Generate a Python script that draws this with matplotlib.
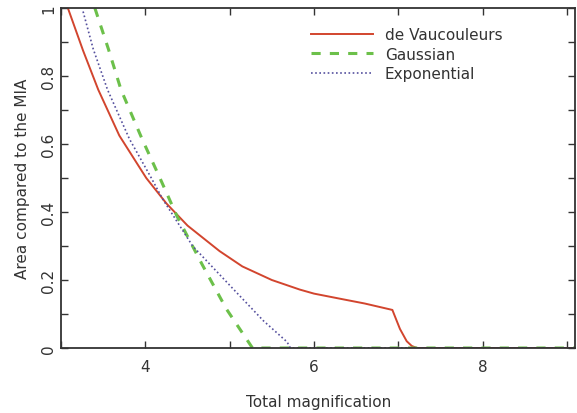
import matplotlib
matplotlib.use("Agg")
from matplotlib import pyplot as plt
from matplotlib.ticker import MultipleLocator

# de Vaucouleurs (solid red)
dv_x = [3.08, 3.26, 3.44, 3.69, 4.01, 4.25, 4.5, 4.88, 5.15, 5.5, 5.83, 6.0,
        6.35, 6.6, 6.93, 6.97, 7.02, 7.1, 7.16, 7.22, 9.1]
dv_y = [1.0, 0.875, 0.76, 0.625, 0.50, 0.425, 0.36, 0.285, 0.24, 0.20, 0.172, 0.16,
        0.143, 0.131, 0.112, 0.087, 0.056, 0.02, 0.006, 0.0, 0.0]

# Gaussian (dashed green)
ga_x = [3.40, 3.56, 3.71, 3.96, 4.19, 4.37, 4.67, 4.96, 5.27, 9.1]
ga_y = [1.0, 0.88, 0.76, 0.615, 0.49, 0.39, 0.247, 0.115, 0.0, 0.0]

# Exponential (dotted blue)
ex_x = [3.26, 3.38, 3.55, 3.81, 4.07, 4.2, 4.56, 5.04, 5.4, 5.68, 5.72, 9.1]
ex_y = [0.99, 0.88, 0.76, 0.615, 0.50, 0.44, 0.30, 0.174, 0.08, 0.018, 0.0, 0.0]

plt.rcParams['font.family'] = ['DejaVu Sans']
txt = '#333333'

fig = plt.figure(figsize=(5.77, 4.14), dpi=100)
ax = fig.add_axes([0.106, 0.157, 0.891, 0.821])

ax.plot(dv_x, dv_y, color='#d2452e', lw=1.4, label='de Vaucouleurs')
ax.plot(ga_x, ga_y, color='#6cc04a', lw=2.2, ls=(0, (3, 3)), label='Gaussian')
ax.plot(ex_x, ex_y, color='#55509e', lw=1.2, ls=(0, (1, 1.5)), label='Exponential')

ax.set_xlim(3.0, 9.1)
ax.set_ylim(0, 1.0)
ax.xaxis.set_major_locator(MultipleLocator(2))
ax.xaxis.set_minor_locator(MultipleLocator(1))
ax.yaxis.set_major_locator(MultipleLocator(0.2))
ax.yaxis.set_minor_locator(MultipleLocator(0.1))
ax.yaxis.set_major_formatter(plt.FuncFormatter(lambda v, p: '0' if abs(v) < 1e-9 else ('1' if abs(v - 1) < 1e-9 else f'{v:.1f}')))

for which in ('major', 'minor'):
    ax.tick_params(axis='both', which=which, direction='in', length=5, width=1,
                   top=True, right=True, color='#333333', labelcolor=txt, labelsize=11)
ax.tick_params(axis='x', pad=8)
for lab in ax.get_yticklabels():
    lab.set_rotation(90)
    lab.set_va('center')
for s in ax.spines.values():
    s.set_color('#333333')
    s.set_linewidth(1.3)

ax.set_xlabel('Total magnification', color=txt, fontsize=11, labelpad=14)
ax.set_ylabel('Area compared to the MIA', color=txt, fontsize=11, labelpad=8)

ax.legend(loc='upper left', bbox_to_anchor=(0.46, 0.985), frameon=False,
          handlelength=4, fontsize=11, labelcolor=txt, labelspacing=0.3)

fig.savefig('out.png', dpi=100)
